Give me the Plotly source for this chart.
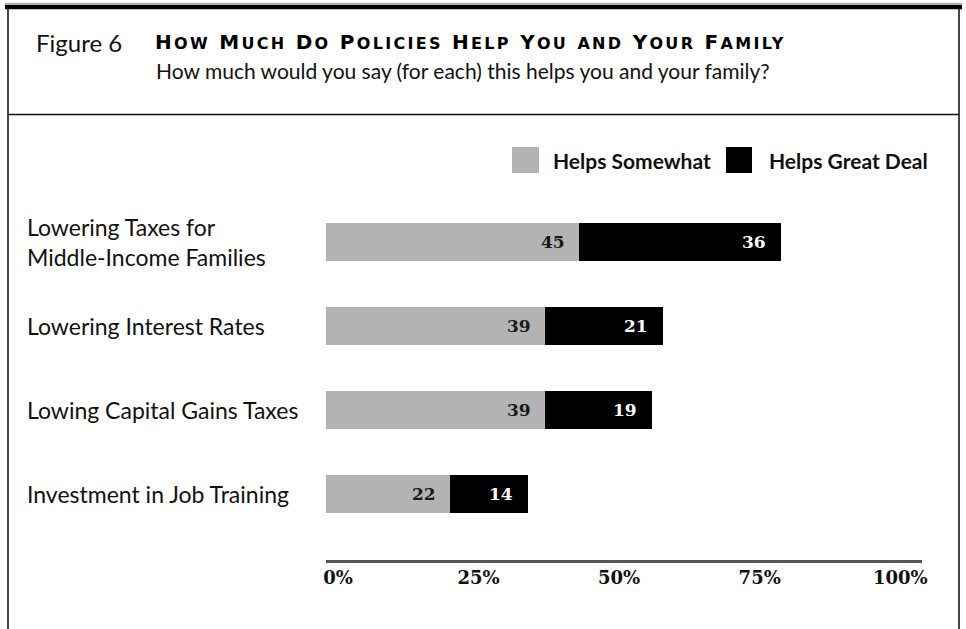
import plotly.graph_objects as go

# ---- data ----
categories = [
    "Lowering Taxes for<br>Middle-Income Families",
    "Lowering Interest Rates",
    "Lowing Capital Gains Taxes",
    "Investment in Job Training",
]
helps_somewhat = [45, 39, 39, 22]
helps_great_deal = [36, 21, 19, 14]
series_names = ["Helps Somewhat", "Helps Great Deal"]
tick_values = [0, 25, 50, 75, 100]
tick_labels = ["0%", "25%", "50%", "75%", "100%"]
fig_label = "Figure 6"
title_text = "How Much Do Policies Help You and Your Family"
subtitle_text = "How much would you say (for each) this helps you and your family?"

# ---- geometry (pixels) ----
W, H = 966, 629
L, R, T, B = 326, 922, 200, 560

def px(x):
    return (x - L) / (R - L)

def py(y):
    return (B - y) / (B - T)

GRAY = "#b3b3b3"
BLACK = "#000000"
TXT = "#111111"
SANS = "Lato"
SERIF = "DejaVu Serif"

def small_caps(s, big=20, small=16, spacing=2.3):
    out = []
    for ch in s:
        if ch.islower():
            out.append(f"<span style='font-size:{small}px;letter-spacing:{spacing}px'>{ch.upper()}</span>")
        else:
            out.append(f"<span style='font-size:{big}px;letter-spacing:{spacing}px'>{ch}</span>")
    return "".join(out)

fig = go.Figure()
fig.add_trace(go.Bar(
    y=categories, x=helps_somewhat, orientation="h", name=series_names[0],
    marker=dict(color=GRAY, line=dict(width=0)), hoverinfo="skip",
))
fig.add_trace(go.Bar(
    y=categories, x=helps_great_deal, orientation="h", name=series_names[1],
    marker=dict(color=BLACK, line=dict(width=0)), hoverinfo="skip",
))

annotations = []
for i, c in enumerate(categories):
    annotations.append(dict(
        x=helps_somewhat[i], y=c, xref="x", yref="y", text=str(helps_somewhat[i]),
        xanchor="right", yanchor="middle", xshift=-12, showarrow=False,
        font=dict(family=SERIF, size=17, color="#1a1a1a", weight="bold"),
    ))
    annotations.append(dict(
        x=helps_somewhat[i] + helps_great_deal[i], y=c, xref="x", yref="y",
        text=str(helps_great_deal[i]),
        xanchor="right", yanchor="middle", xshift=-13, showarrow=False,
        font=dict(family=SERIF, size=17, color="#ffffff", weight="bold"),
    ))
    annotations.append(dict(
        x=px(25), y=c, xref="paper", yref="y", text=c, align="left",
        xanchor="left", yanchor="middle", showarrow=False,
        font=dict(family=SANS, size=23, color=TXT),
    ))

annotations.append(dict(
    x=px(34), y=py(42), xref="paper", yref="paper", text=fig_label,
    xanchor="left", yanchor="middle", showarrow=False,
    font=dict(family=SANS, size=24, color=TXT),
))
annotations.append(dict(
    x=px(153), y=py(42), xref="paper", yref="paper", text=small_caps(title_text),
    xanchor="left", yanchor="middle", showarrow=False,
    font=dict(family="DejaVu Sans", size=20, color="#000000", weight="bold"),
))
annotations.append(dict(
    x=px(154), y=py(71), xref="paper", yref="paper", text=subtitle_text,
    xanchor="left", yanchor="middle", showarrow=False,
    font=dict(family=SANS, size=21, color=TXT),
))

for name, xl in zip(series_names, [551, 767]):
    annotations.append(dict(
        x=px(xl), y=py(160), xref="paper", yref="paper", text=name,
        xanchor="left", yanchor="middle", showarrow=False,
        font=dict(family=SANS, size=21, color=TXT, weight="bold"),
    ))

shapes = []
for col, (x0, x1) in zip([GRAY, BLACK], [(512, 539), (726, 752)]):
    shapes.append(dict(type="rect", xref="paper", yref="paper",
                       x0=px(x0), x1=px(x1), y0=py(173), y1=py(147),
                       fillcolor=col, line=dict(width=0)))
shapes.append(dict(type="line", xref="paper", yref="paper",
                   x0=px(5), x1=px(962), y0=py(3.5), y1=py(3.5),
                   line=dict(color="#b0b0b0", width=1.5)))
shapes.append(dict(type="line", xref="paper", yref="paper",
                   x0=px(5), x1=px(962), y0=py(7), y1=py(7),
                   line=dict(color="#000000", width=4.5)))
shapes.append(dict(type="line", xref="paper", yref="paper",
                   x0=px(8), x1=px(8), y0=py(9), y1=py(640),
                   line=dict(color="#333333", width=1.8)))
shapes.append(dict(type="line", xref="paper", yref="paper",
                   x0=px(959), x1=px(959), y0=py(9), y1=py(640),
                   line=dict(color="#333333", width=1.8)))
shapes.append(dict(type="line", xref="paper", yref="paper",
                   x0=px(8), x1=px(959), y0=py(114.5), y1=py(114.5),
                   line=dict(color="#111111", width=1.5)))

n = len(categories)
fig.update_layout(
    width=W, height=H,
    margin=dict(l=L, r=W - R, t=T, b=H - B, pad=0),
    paper_bgcolor="white", plot_bgcolor="white",
    barmode="stack", bargap=0.55,
    showlegend=False,
    annotations=annotations, shapes=shapes,
    xaxis=dict(
        range=[0, 106], showgrid=False, zeroline=False,
        showline=True, linecolor="#555555", linewidth=2.5,
        tickvals=tick_values, ticktext=tick_labels, ticks="",
        ticklabelshift=12, ticklabelstandoff=0,
        tickfont=dict(family=SERIF, size=18, color=TXT, weight="bold"),
        fixedrange=True,
    ),
    yaxis=dict(
        categoryorder="array", categoryarray=categories,
        range=[n - 1 + 0.786, -0.5], showgrid=False, zeroline=False,
        showline=False, showticklabels=False, ticks="", fixedrange=True,
    ),
)

fig.write_html(
    "out.html",
    config={"displayModeBar": False},
    post_script="document.body.style.margin='0';document.body.style.overflow='hidden';",
)
